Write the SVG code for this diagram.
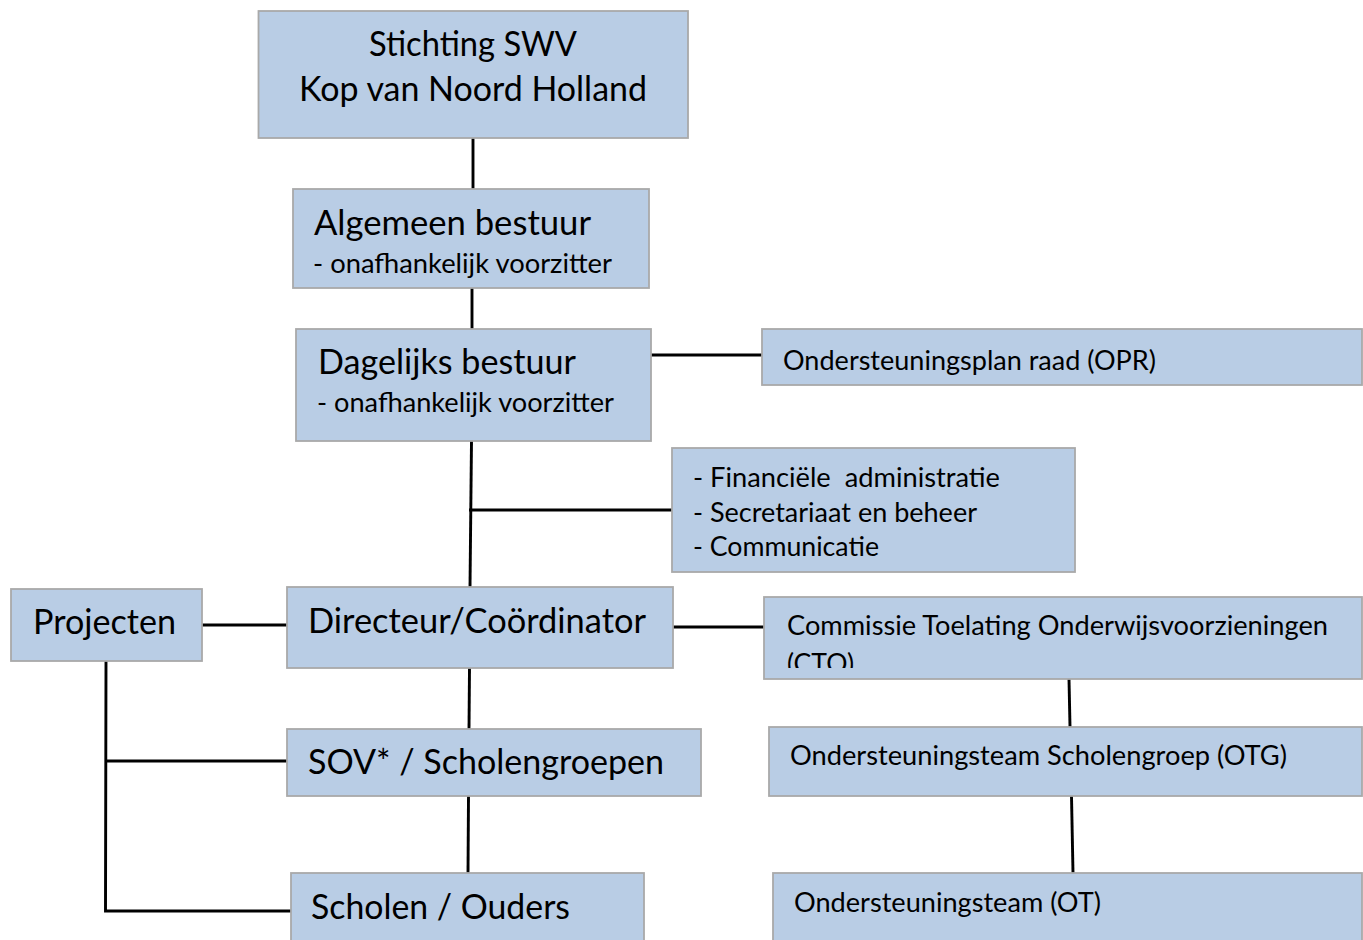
<svg xmlns="http://www.w3.org/2000/svg" width="1363" height="940" viewBox="0 0 1363 940">
<style>
.box{fill:#B9CDE5;stroke:#A9A9A9;stroke-width:1.8}
.big{font-family:Lato,"Open Sans","Liberation Sans",sans-serif;font-size:34px;fill:#000}
.small{font-family:Lato,"Open Sans","Liberation Sans",sans-serif;font-size:27px;fill:#000}
.conn{stroke:#000;stroke-width:2.9;fill:none}
</style>
<defs>
<clipPath id="ctoclip"><rect x="764" y="597" width="599" height="71"/></clipPath>
</defs>
<rect width="1363" height="940" fill="#FFFFFF"/>
<g id="connectors">
<line class="conn" x1="473" y1="138" x2="473" y2="189"/>
<line class="conn" x1="472" y1="288" x2="472" y2="329"/>
<line class="conn" x1="651" y1="355" x2="762" y2="355"/>
<line class="conn" x1="471.5" y1="441" x2="470" y2="587"/>
<line class="conn" x1="469" y1="510" x2="672" y2="510"/>
<line class="conn" x1="202" y1="625" x2="287" y2="625"/>
<line class="conn" x1="673" y1="627" x2="764" y2="627"/>
<line class="conn" x1="469.5" y1="668" x2="469" y2="729"/>
<line class="conn" x1="468.5" y1="796" x2="468" y2="873"/>
<polyline class="conn" points="106,661 105.5,911 291,911"/>
<line class="conn" x1="106" y1="761" x2="287" y2="761"/>
<line class="conn" x1="1069" y1="679" x2="1070" y2="727"/>
<line class="conn" x1="1071.5" y1="796" x2="1073" y2="873"/>
</g>
<g id="stichting">
<rect class="box" x="258.5" y="11" width="429.5" height="127"/>
<text class="big" x="473" y="56" text-anchor="middle" textLength="208" lengthAdjust="spacingAndGlyphs">Stichting SWV</text>
<text class="big" x="473" y="101" text-anchor="middle" textLength="348" lengthAdjust="spacingAndGlyphs">Kop van Noord Holland</text>
</g>
<g id="algemeen">
<rect class="box" x="293" y="189" width="356" height="99"/>
<text class="big" x="314" y="235" textLength="277" lengthAdjust="spacingAndGlyphs">Algemeen bestuur</text>
<text class="small" x="313" y="273" textLength="299" lengthAdjust="spacingAndGlyphs">- onafhankelijk voorzitter</text>
</g>
<g id="dagelijks">
<rect class="box" x="296" y="329" width="355" height="112"/>
<text class="big" x="318" y="374" textLength="258" lengthAdjust="spacingAndGlyphs">Dagelijks bestuur</text>
<text class="small" x="317" y="412" textLength="297" lengthAdjust="spacingAndGlyphs">- onafhankelijk voorzitter</text>
</g>
<g id="opr">
<rect class="box" x="762" y="329" width="600" height="56"/>
<text class="small" x="783" y="370" textLength="373" lengthAdjust="spacingAndGlyphs">Ondersteuningsplan raad (OPR)</text>
</g>
<g id="staf">
<rect class="box" x="672" y="448" width="403" height="124"/>
<text class="small" x="693" y="487" style="white-space:pre" xml:space="preserve" textLength="307" lengthAdjust="spacingAndGlyphs">- Financiële  administratie</text>
<text class="small" x="693" y="522" textLength="284" lengthAdjust="spacingAndGlyphs">- Secretariaat en beheer</text>
<text class="small" x="693" y="556" textLength="186" lengthAdjust="spacingAndGlyphs">- Communicatie</text>
</g>
<g id="projecten">
<rect class="box" x="11" y="589" width="191" height="72"/>
<text class="big" x="33" y="634" textLength="143" lengthAdjust="spacingAndGlyphs">Projecten</text>
</g>
<g id="directeur">
<rect class="box" x="287" y="587" width="386" height="81"/>
<text class="big" x="308" y="633" textLength="338" lengthAdjust="spacingAndGlyphs">Directeur/Coördinator</text>
</g>
<g id="cto">
<rect class="box" x="764" y="597" width="598" height="82"/>
<text class="small" x="787" y="635" textLength="541" lengthAdjust="spacingAndGlyphs">Commissie Toelating Onderwijsvoorzieningen</text>
<text class="small" x="787" y="673" clip-path="url(#ctoclip)" textLength="67" lengthAdjust="spacingAndGlyphs">(CTO)</text>
</g>
<g id="sov">
<rect class="box" x="287" y="729" width="414" height="67"/>
<text class="big" x="308" y="774" textLength="356" lengthAdjust="spacingAndGlyphs">SOV* / Scholengroepen</text>
</g>
<g id="otg">
<rect class="box" x="769" y="727" width="593" height="69"/>
<text class="small" x="790" y="765" textLength="497" lengthAdjust="spacingAndGlyphs">Ondersteuningsteam Scholengroep (OTG)</text>
</g>
<g id="scholen">
<rect class="box" x="291" y="873" width="353" height="70"/>
<text class="big" x="311" y="919" textLength="259" lengthAdjust="spacingAndGlyphs">Scholen / Ouders</text>
</g>
<g id="ot">
<rect class="box" x="773" y="873" width="589" height="70"/>
<text class="small" x="794" y="912" textLength="307" lengthAdjust="spacingAndGlyphs">Ondersteuningsteam (OT)</text>
</g>
</svg>
